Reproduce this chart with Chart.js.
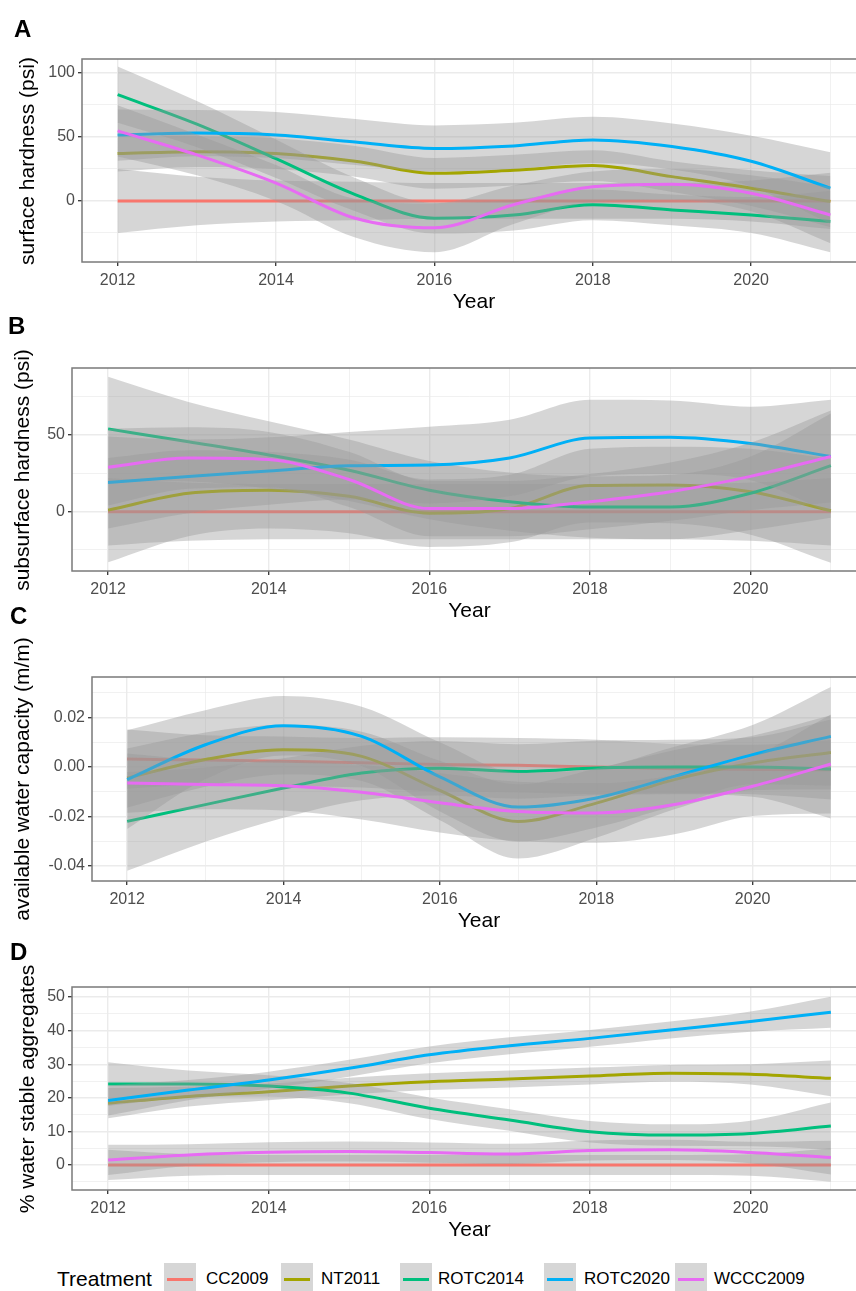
<!DOCTYPE html>
<html><head><meta charset="utf-8">
<script src="https://cdn.jsdelivr.net/npm/chart.js@4.4.1/dist/chart.umd.min.js"></script>
<style>
html,body{margin:0;padding:0;background:#fff;width:856px;height:1291px;overflow:hidden;}
body{position:relative;font-family:"Liberation Sans",Arial,sans-serif;}
canvas{position:absolute;left:0;}
.lab{position:absolute;font-weight:bold;font-size:24px;line-height:24px;color:#000;}
.ytitle{position:absolute;font-size:21px;line-height:24px;color:#000;white-space:nowrap;transform:translate(-50%,-50%) rotate(-90deg);}
.legt{position:absolute;font-size:21px;line-height:24px;color:#000;}
.leg{position:absolute;font-size:17px;line-height:20px;color:#000;white-space:nowrap;}
.key{position:absolute;width:32px;height:32px;background:#D6D6D6;}
.key i{position:absolute;left:3px;right:3px;top:14.5px;height:3px;}
</style></head><body>
<script>
// ---------- data ----------
const years = [2012, 2013, 2014, 2015, 2016, 2017, 2018, 2019, 2020, 2021];
const treatments = ['CC2009', 'NT2011', 'ROTC2014', 'ROTC2020', 'WCCC2009'];
const colors = ['#F8766D', '#A3A500', '#00BF7D', '#00B0F6', '#E76BF3'];

// A: surface hardness (psi) - smoothed fit and half-width of the confidence band
const surfCC2009   = [0, 0, 0, 0, 0, 0, 0, 0, 0, 0];
const surfNT2011   = [37, 38.5, 37, 31, 21.6, 24, 27.6, 19, 10, -0.5];
const surfROTC2014 = [83, 60, 33, 5, -13.5, -11, -3, -7, -11, -16];
const surfROTC2020 = [51.5, 53, 51.5, 46, 41, 43, 47.7, 42.5, 31, 10];
const surfWCCC2009 = [54.7, 36, 14, -13.5, -21, -3, 11, 13, 6, -11];
const surfSeCC2009   = [25, 19, 16, 15, 14, 14, 14, 14, 16, 22];
const surfSeNT2011   = [14, 12, 12, 12, 12, 12, 12, 12, 14, 20];
const surfSeROTC2014 = [22, 18, 15, 13, 12, 12, 12, 12, 14, 24];
const surfSeROTC2020 = [20, 18, 18, 18, 18, 18, 18, 18, 20, 28];
const surfSeWCCC2009 = [20, 16, 14, 15, 19, 15, 12, 12, 14, 22];

// B: subsurface hardness (psi)
const subCC2009   = [0, 0, 0, 0, 0, 0, 0, 0, 0, 0];
const subNT2011   = [1, 12, 14, 10, -1, 2, 17, 17.4, 13, 0.6];
const subROTC2014 = [54, 45.6, 37, 27, 14, 6.5, 3, 3, 12, 30];
const subROTC2020 = [19, 23, 26.5, 30, 30.4, 35, 48, 48.5, 44.5, 36];
const subWCCC2009 = [29, 35, 34, 21, 2, 2, 6.5, 13, 23, 36];
const subSeCC2009   = [22, 19, 18, 18, 18, 18, 18, 18, 19, 22];
const subSeNT2011   = [34, 28, 25, 24, 22, 22, 24, 25, 28, 34];
const subSeROTC2014 = [34, 26, 22, 20, 19, 19, 20, 21, 24, 34];
const subSeROTC2020 = [30, 24, 22, 22, 25, 25, 25, 24, 24, 37];
const subSeWCCC2009 = [25, 20, 18, 18, 18, 18, 18, 19, 22, 30];

// C: available water capacity (m/m)
const awcCC2009   = [0.0032, 0.0028, 0.0023, 0.0017, 0.001, 0.0007, 0, -0.0007, -0.001, -0.0011];
const awcNT2011   = [-0.0045, 0.003, 0.007, 0.0043, -0.0095, -0.022, -0.0146, -0.0051, 0.0016, 0.0059];
const awcROTC2014 = [-0.022, -0.0152, -0.0085, -0.0024, -0.0005, -0.0018, -0.0004, 0, 0, -0.0008];
const awcROTC2020 = [-0.0051, 0.009, 0.0167, 0.0124, -0.004, -0.0162, -0.0125, -0.0038, 0.005, 0.0124];
const awcWCCC2009 = [-0.0065, -0.0071, -0.0076, -0.0102, -0.0145, -0.018, -0.0186, -0.0152, -0.0078, 0.0012];
const awcSeCC2009   = [0.012, 0.01, 0.01, 0.01, 0.011, 0.011, 0.011, 0.01, 0.01, 0.012];
const awcSeNT2011   = [0.012, 0.011, 0.01, 0.01, 0.012, 0.015, 0.014, 0.012, 0.011, 0.015];
const awcSeROTC2014 = [0.02, 0.015, 0.012, 0.011, 0.011, 0.011, 0.011, 0.011, 0.012, 0.02];
const awcSeROTC2020 = [0.02, 0.014, 0.012, 0.012, 0.014, 0.014, 0.012, 0.012, 0.012, 0.02];
const awcSeWCCC2009 = [0.012, 0.01, 0.01, 0.011, 0.012, 0.012, 0.012, 0.012, 0.012, 0.02];

// D: % water stable aggregates
const wsaCC2009   = [0, 0, 0, 0, 0, 0, 0, 0, 0, 0];
const wsaNT2011   = [18.4, 20.4, 21.8, 23.5, 24.8, 25.6, 26.5, 27.3, 27, 25.8];
const wsaROTC2014 = [24.1, 24.1, 23.5, 21.4, 16.9, 13.4, 9.9, 8.9, 9.4, 11.6];
const wsaROTC2020 = [19.2, 22.3, 25.3, 28.8, 32.8, 35.5, 37.7, 40.2, 42.7, 45.5];
const wsaWCCC2009 = [1.5, 3, 3.8, 4, 3.7, 3.3, 4.3, 4.5, 3.7, 2.2];
const wsaSeCC2009   = [4.5, 3.2, 3, 3, 3, 3, 3, 3, 3.2, 5];
const wsaSeNT2011   = [4.5, 3, 2.5, 2.5, 2.5, 2.5, 2.5, 2.5, 3, 5.3];
const wsaSeROTC2014 = [6.5, 4, 3.2, 3, 3.2, 3.2, 3.2, 3.2, 3.8, 7];
const wsaSeROTC2020 = [4.5, 3, 2.5, 2.5, 2.5, 2.5, 2.5, 2.5, 3, 4.6];
const wsaSeWCCC2009 = [4.5, 3.2, 3, 3, 3, 3, 3, 3, 3.2, 5];

// tick labels
const xTickLabels = ['2012', '2014', '2016', '2018', '2020'];
const surfTicks = [0, 50, 100];
const subTicks = [0, 50];
const awcTicks = [-0.04, -0.02, 0.00, 0.02];
const wsaTicks = [0, 10, 20, 30, 40, 50];

// ---------- layout ----------
Chart.defaults.font.family = '"Liberation Sans", Arial, sans-serif';
const CW = 870, PADTOP = 14, XAXH = 52;

const panels = [
  {letter:'A', lx:14, ly:17, title:'surface hardness (psi)', tx:27, fits:[surfCC2009,surfNT2011,surfROTC2014,surfROTC2020,surfWCCC2009],
   ses:[surfSeCC2009,surfSeNT2011,surfSeROTC2014,surfSeROTC2020,surfSeWCCC2009],
   left:82, top:59, bottom:262, right:866, min:-47.7, max:110.9, majors:surfTicks, minors:[-25,25,75], fmt:v=>String(v)},
  {letter:'B', lx:8, ly:314, title:'subsurface hardness (psi)', tx:22, fits:[subCC2009,subNT2011,subROTC2014,subROTC2020,subWCCC2009],
   ses:[subSeCC2009,subSeNT2011,subSeROTC2014,subSeROTC2020,subSeWCCC2009],
   left:72, top:368, bottom:571, right:867, min:-38.7, max:93.7, majors:subTicks, minors:[-25,25,75], fmt:v=>String(v)},
  {letter:'C', lx:10, ly:604, title:'available water capacity (m/m)', tx:22, fits:[awcCC2009,awcNT2011,awcROTC2014,awcROTC2020,awcWCCC2009],
   ses:[awcSeCC2009,awcSeNT2011,awcSeROTC2014,awcSeROTC2020,awcSeWCCC2009],
   left:92, top:677, bottom:881, right:866, min:-0.0461, max:0.0364, majors:awcTicks, minors:[-0.03,-0.01,0.01,0.03], fmt:v=>v.toFixed(2)},
  {letter:'D', lx:10, ly:940, title:'% water stable aggregates', tx:27, fits:[wsaCC2009,wsaNT2011,wsaROTC2014,wsaROTC2020,wsaWCCC2009],
   ses:[wsaSeCC2009,wsaSeNT2011,wsaSeROTC2014,wsaSeROTC2020,wsaSeWCCC2009],
   left:72, top:987, bottom:1190, right:867, min:-7.45, max:53.0, majors:wsaTicks, minors:[-5,5,15,25,35,45], fmt:v=>String(v)}
];

const borderPlugin = {
  id:'panelBorder',
  afterDatasetsDraw(chart){
    const {ctx, chartArea:a} = chart;
    ctx.save(); ctx.strokeStyle = '#7A7A7A'; ctx.lineWidth = 1.5;
    ctx.strokeRect(a.left, a.top, a.right - a.left, a.bottom - a.top);
    ctx.restore();
  }
};

function isMajorVal(list, v){ return list.some(m => Math.abs(m - v) < 1e-9); }
const xMajorVals = xTickLabels.map(Number);

panels.forEach(p => {
  const cv = document.createElement('canvas');
  const h = p.bottom - p.top + PADTOP + XAXH;
  cv.width = CW; cv.height = h;
  cv.style.width = CW + 'px'; cv.style.height = h + 'px';
  cv.style.top = (p.top - PADTOP) + 'px';
  document.body.appendChild(cv);

  const datasets = [];
  treatments.forEach((t, i) => {
    const fit = p.fits[i], se = p.ses[i];
    const ord = 1000 - i * 10;
    datasets.push({label:t+' upper', data: years.map((x,j)=>({x, y: fit[j] + se[j]})),
      borderWidth:0, pointRadius:0, fill:false, order:ord, cubicInterpolationMode:'monotone', borderColor:'rgba(0,0,0,0)'});
    datasets.push({label:t+' lower', data: years.map((x,j)=>({x, y: fit[j] - se[j]})),
      borderWidth:0, pointRadius:0, fill:'-1', backgroundColor:'rgba(153,153,153,0.4)', order:ord,
      cubicInterpolationMode:'monotone', borderColor:'rgba(0,0,0,0)'});
    datasets.push({label:t, data: years.map((x,j)=>({x, y: fit[j]})),
      borderColor: colors[i], borderWidth:3, pointRadius:0, fill:false, order:ord - 1,
      cubicInterpolationMode:'monotone', borderCapStyle:'butt'});
  });

  const yVals = p.majors.concat(p.minors).sort((a,b)=>a-b);

  new Chart(cv, {
    type:'line',
    data:{datasets},
    plugins:[borderPlugin],
    options:{
      responsive:false, animation:false, devicePixelRatio:1,
      layout:{padding:{left:0, top:PADTOP, right:CW - p.right, bottom:0}},
      plugins:{legend:{display:false}, tooltip:{enabled:false}},
      scales:{
        x:{type:'linear', min:2011.55, max:2021.45,
          afterBuildTicks: s => { s.ticks = years.map(v => ({value:v})); },
          afterFit: s => { s.height = XAXH; },
          ticks:{autoSkip:false, maxRotation:0, minRotation:0, padding:5, color:'#4D4D4D', font:{size:16},
            callback: v => isMajorVal(xMajorVals, v) ? String(v) : ''},
          grid:{color:'#EBEBEB', lineWidth: c => (c.tick && isMajorVal(xMajorVals, c.tick.value)) ? 1.4 : 0.7,
            tickLength:4, tickWidth:1.3,
            tickColor: c => (c.tick && isMajorVal(xMajorVals, c.tick.value)) ? '#333333' : 'rgba(0,0,0,0)'},
          border:{display:false},
          title:{display:true, text:'Year', color:'#000', font:{size:21}, padding:{top:0, bottom:-1}}
        },
        y:{type:'linear', min:p.min, max:p.max,
          afterBuildTicks: s => { s.ticks = yVals.map(v => ({value:v})); },
          afterFit: s => { s.width = p.left; },
          ticks:{autoSkip:false, padding:3, color:'#4D4D4D', font:{size:16},
            callback: v => isMajorVal(p.majors, v) ? p.fmt(v) : ''},
          grid:{color:'#EBEBEB', lineWidth: c => (c.tick && isMajorVal(p.majors, c.tick.value)) ? 1.4 : 0.7,
            tickLength:4, tickWidth:1.3,
            tickColor: c => (c.tick && isMajorVal(p.majors, c.tick.value)) ? '#333333' : 'rgba(0,0,0,0)'},
          border:{display:false},
          title:{display:false}
        }
      }
    }
  });

  const yt = document.createElement('div');
  yt.className = 'ytitle'; yt.textContent = p.title;
  yt.style.left = p.tx + 'px'; yt.style.top = ((p.top + p.bottom) / 2) + 'px';
  document.body.appendChild(yt);

  const lab = document.createElement('div');
  lab.className = 'lab'; lab.textContent = p.letter;
  lab.style.left = p.lx + 'px'; lab.style.top = p.ly + 'px';
  document.body.appendChild(lab);
});

// ---------- legend ----------
const legTitle = document.createElement('div');
legTitle.className = 'legt'; legTitle.textContent = 'Treatment';
legTitle.style.left = '57px'; legTitle.style.top = '1267px';
document.body.appendChild(legTitle);
const keyX = [164, 281, 400, 544, 675];
const textX = [206, 321, 438, 584, 714];
treatments.forEach((t, i) => {
  const k = document.createElement('div');
  k.className = 'key'; k.style.left = keyX[i] + 'px'; k.style.top = '1263px';
  const ln = document.createElement('i'); ln.style.background = colors[i]; k.appendChild(ln);
  document.body.appendChild(k);
  const tx = document.createElement('div');
  tx.className = 'leg'; tx.textContent = t; tx.style.left = textX[i] + 'px'; tx.style.top = '1269px';
  document.body.appendChild(tx);
});
</script>
</body></html>
